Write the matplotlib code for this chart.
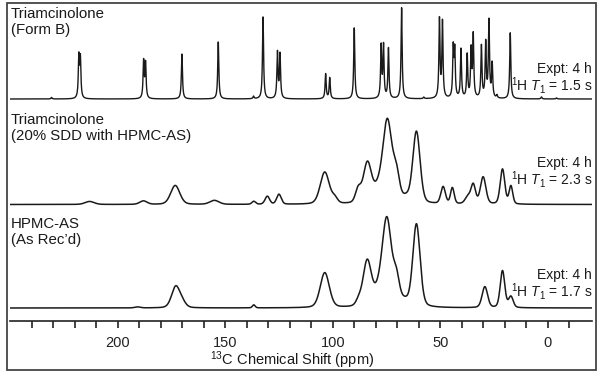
import numpy as np
import matplotlib.pyplot as plt
from matplotlib.patches import Rectangle

plt.rcParams['font.family'] = ['Liberation Sans', 'DejaVu Sans']
plt.rcParams['mathtext.fontset'] = 'custom'
plt.rcParams['mathtext.rm'] = 'Liberation Sans'
plt.rcParams['mathtext.it'] = 'Liberation Sans:italic'

# peak lists: position (ppm), height, FWHM (ppm)
formB_ppm = [230.7, 218.0, 217.3, 187.9, 187.0, 170.1, 153.2, 136.8, 132.4, 125.7, 124.5,
             103.3, 101.4, 90.0, 77.5, 76.4, 74.1, 68.0, 57.7, 50.4, 49.0, 44.0, 43.3,
             40.4, 37.5, 35.7, 34.7, 30.9, 28.9, 27.4, 25.9, 23.7, 17.5, 3.0, -4.0]
formB_h = [1.5, 41, 39, 37, 35, 45, 57, 2.5, 82, 46, 44,
           25, 21, 71, 52, 52, 50, 91, 1.5, 79, 76, 49, 46,
           49, 43, 47, 62, 52, 55, 77, 34, 3, 66, 2, 1]
formB_w = 0.6

sdd_ppm = [213, 188, 173.2, 155, 136.7, 130.4, 125.0, 103.7, 99.0, 88.2, 83.9, 79.0,
           74.6, 70.4, 66.0, 61.1, 48.7, 44.4, 37.2, 34.7, 30.1, 21.1, 17.2]
sdd_h = [3, 3.5, 19, 4, 3, 8, 10, 32, 5, 13, 40, 12,
         82, 26, 5, 72, 17, 16, 7, 19, 27, 35, 18]
sdd_w = [5, 4, 5, 5, 2, 2.5, 2.5, 5, 3, 3, 4.5, 5,
         5, 3.5, 4, 4, 2.5, 2, 3, 2.5, 3, 2.5, 2]

hpmc_ppm = [190.7, 173.0, 170.0, 136.7, 103.7, 88.0, 84.0, 78.5, 74.8, 70.4, 66.5,
            61.1, 29.3, 21.1, 17.2]
hpmc_h = [1, 21, 5, 3, 35, 5, 45, 14, 84, 26, 5, 83, 21, 37, 11]
hpmc_w = [3, 4.5, 4, 1.5, 5, 3, 4.5, 6, 5, 3.5, 4, 4, 3, 2.5, 2.5]

expt_labels = ['1.5', '2.3', '1.7']

ppm = np.linspace(250, -21, 6000)


def lorentz(x, x0, h, w):
    return h / (1 + ((x - x0) / (w / 2)) ** 2)


def pvoigt(x, x0, h, w, eta=0.25):
    g = np.exp(-4 * np.log(2) * ((x - x0) / w) ** 2)
    return h * ((1 - eta) * g + eta / (1 + ((x - x0) / (w / 2)) ** 2))


spec_b = sum(lorentz(ppm, p, h, formB_w) for p, h in zip(formB_ppm, formB_h))
spec_sdd = sum(pvoigt(ppm, p, h, w) for p, h, w in zip(sdd_ppm, sdd_h, sdd_w))
spec_hpmc = sum(pvoigt(ppm, p, h, w) for p, h, w in zip(hpmc_ppm, hpmc_h, hpmc_w))

fig = plt.figure(figsize=(6, 3.76), dpi=100)
ax = fig.add_axes([10 / 600, 55 / 376, 582 / 600, 318 / 376])

ax.plot(ppm, spec_b + 222, color='#1a1a1a', lw=1.0)
ax.plot(ppm, spec_sdd + 116.5, color='#1a1a1a', lw=1.1)
ax.plot(ppm, spec_hpmc + 13, color='#1a1a1a', lw=1.1)

ax.set_xlim(250, -20.5)
ax.set_ylim(0, 318)
ax.set_xticks([200, 150, 100, 50, 0])
ax.set_xticks(np.arange(-10, 250, 10), minor=True)
ax.tick_params(axis='x', which='both', direction='out', length=5, width=1.2,
               color='#222222', labelsize=10.5, pad=6, labelcolor='#222222')
ax.set_yticks([])
for s in ['top', 'left', 'right']:
    ax.spines[s].set_visible(False)
ax.spines['bottom'].set_linewidth(1.2)
ax.spines['bottom'].set_color('#222222')

# outer frame round the whole figure
fig.patches.append(Rectangle((7 / 600, 6 / 376), 589 / 600, 367 / 376, transform=fig.transFigure,
                             fill=False, edgecolor='#444444', lw=1.3))

tc = '#1a1a1a'
fig.text(11 / 600, 1 - 7 / 376, 'Triamcinolone\n(Form B)', fontsize=10.8, va='top',
         linespacing=1.15, color=tc)
fig.text(11 / 600, 1 - 113 / 376, 'Triamcinolone\n(20% SDD with HPMC-AS)', fontsize=10.8,
         va='top', linespacing=1.15, color=tc)
fig.text(11 / 600, 1 - 217 / 376, 'HPMC-AS\n(As Rec\u2019d)', fontsize=10.8, va='top',
         linespacing=1.15, color=tc)

for ytop, t1 in zip([62, 156, 268], expt_labels):
    fig.text(592 / 600, 1 - ytop / 376, 'Expt: 4 h\n' + r'$^{1}$H $T_{1}$ = ' + t1 + ' s',
             fontsize=10, ha='right', va='top', multialignment='right',
             linespacing=0.92, color=tc)

fig.text(292 / 600, 1 - 365 / 376, r'$^{13}$C Chemical Shift (ppm)', fontsize=10.5,
         ha='center', va='baseline', color=tc)

fig.savefig('out.png', dpi=100)
